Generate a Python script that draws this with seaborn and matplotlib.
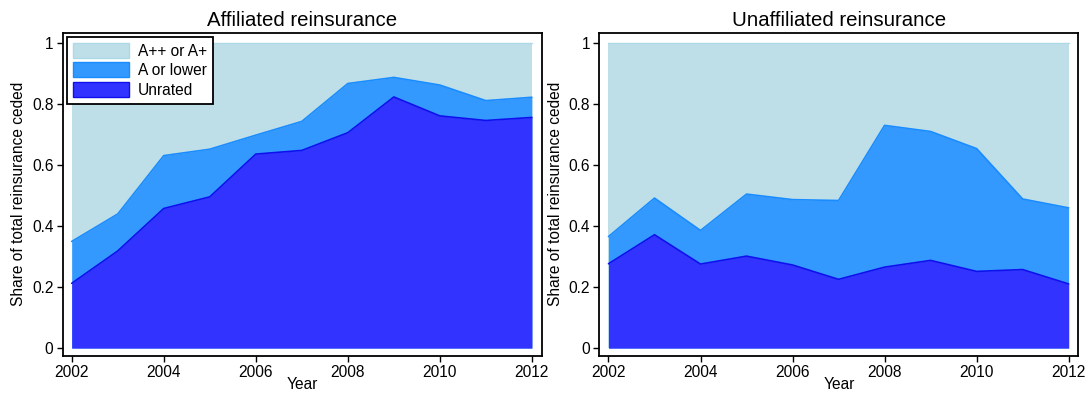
import matplotlib
matplotlib.use("Agg")
import matplotlib.pyplot as plt
import seaborn as sns
import pandas as pd
from matplotlib.patches import Patch
from matplotlib.ticker import FuncFormatter

years = [2002, 2003, 2004, 2005, 2006, 2007, 2008, 2009, 2010, 2011, 2012]

# Affiliated reinsurance: cumulative shares
aff_unrated = [0.212, 0.318, 0.457, 0.495, 0.635, 0.647, 0.705, 0.822, 0.760, 0.745, 0.755]
aff_a_lower = [0.349, 0.439, 0.630, 0.651, 0.697, 0.742, 0.866, 0.886, 0.861, 0.810, 0.821]

# Unaffiliated reinsurance: cumulative shares
unaff_unrated = [0.276, 0.371, 0.275, 0.301, 0.272, 0.225, 0.265, 0.287, 0.251, 0.257, 0.210]
unaff_a_lower = [0.365, 0.491, 0.385, 0.504, 0.486, 0.483, 0.729, 0.709, 0.653, 0.488, 0.459]

titles = ["Affiliated reinsurance", "Unaffiliated reinsurance"]
legend_labels = ["A++ or A+", "A or lower", "Unrated"]

c_top, c_mid, c_low = "#bedfe8", "#3399ff", "#3333ff"
e_top, e_mid, e_low = "#add8e6", "#1a8cff", "#1010ee"

sns.set_style("ticks")
plt.rcParams["font.family"] = ["Liberation Sans", "DejaVu Sans"]
plt.rcParams.update({
    "text.color": "black",
    "axes.labelcolor": "black",
    "xtick.color": "black",
    "ytick.color": "black",
})

fig = plt.figure(figsize=(10.89, 3.94), dpi=100)
ax1 = fig.add_axes([0.0574, 0.0964, 0.4399, 0.8211])
ax2 = fig.add_axes([0.5503, 0.0964, 0.4399, 0.8211])

panels = [(ax1, aff_unrated, aff_a_lower), (ax2, unaff_unrated, unaff_a_lower)]
for i, (ax, low, mid) in enumerate(panels):
    df = pd.DataFrame({"Year": years, "unrated": low, "alower": mid, "top": [1.0] * len(years)})
    ax.fill_between(df["Year"], 0, df["top"], color=c_top, lw=0, zorder=1)
    ax.fill_between(df["Year"], 0, df["alower"], color=c_mid, lw=0, zorder=2)
    ax.fill_between(df["Year"], 0, df["unrated"], color=c_low, lw=0, zorder=3)
    sns.lineplot(data=df, x="Year", y="top", ax=ax, color=e_top, lw=1.0, zorder=1.5)
    sns.lineplot(data=df, x="Year", y="alower", ax=ax, color=e_mid, lw=1.2, zorder=2.5)
    sns.lineplot(data=df, x="Year", y="unrated", ax=ax, color=e_low, lw=1.2, zorder=3.5)

    ax.set_xlim(2001.8, 2012.21)
    ax.set_ylim(-0.026, 1.033)
    ax.set_xticks([2002, 2004, 2006, 2008, 2010, 2012])
    ax.set_yticks([0, 0.2, 0.4, 0.6, 0.8, 1.0])
    ax.yaxis.set_major_formatter(FuncFormatter(lambda v, p: f"{v:g}"))
    ax.tick_params(axis="both", labelsize=11.2, length=4.5, width=1, pad=2,
                   direction="out", color="black", labelcolor="black")
    for s in ax.spines.values():
        s.set_visible(True)
        s.set_color("black")
        s.set_linewidth(1.3)
    ax.set_title(titles[i], fontsize=14.7, pad=5)
    ax.set_xlabel("Year", fontsize=11.2, labelpad=-2.5)
    ax.set_ylabel("Share of total reinsurance ceded", fontsize=11.2, labelpad=4)

handles = [
    Patch(facecolor=c_top, edgecolor=e_top, lw=1),
    Patch(facecolor=c_mid, edgecolor=e_mid, lw=1),
    Patch(facecolor=c_low, edgecolor=e_low, lw=1),
]
leg = ax1.legend(handles, legend_labels, loc="upper left", fontsize=11.2,
                 frameon=True, fancybox=False, framealpha=1, edgecolor="black",
                 borderaxespad=0.28, handlelength=3.6, handleheight=1.1,
                 handletextpad=0.6, labelspacing=0.25, borderpad=0.38)
leg.get_frame().set_linewidth(1.3)

fig.savefig("out.png", dpi=100)
